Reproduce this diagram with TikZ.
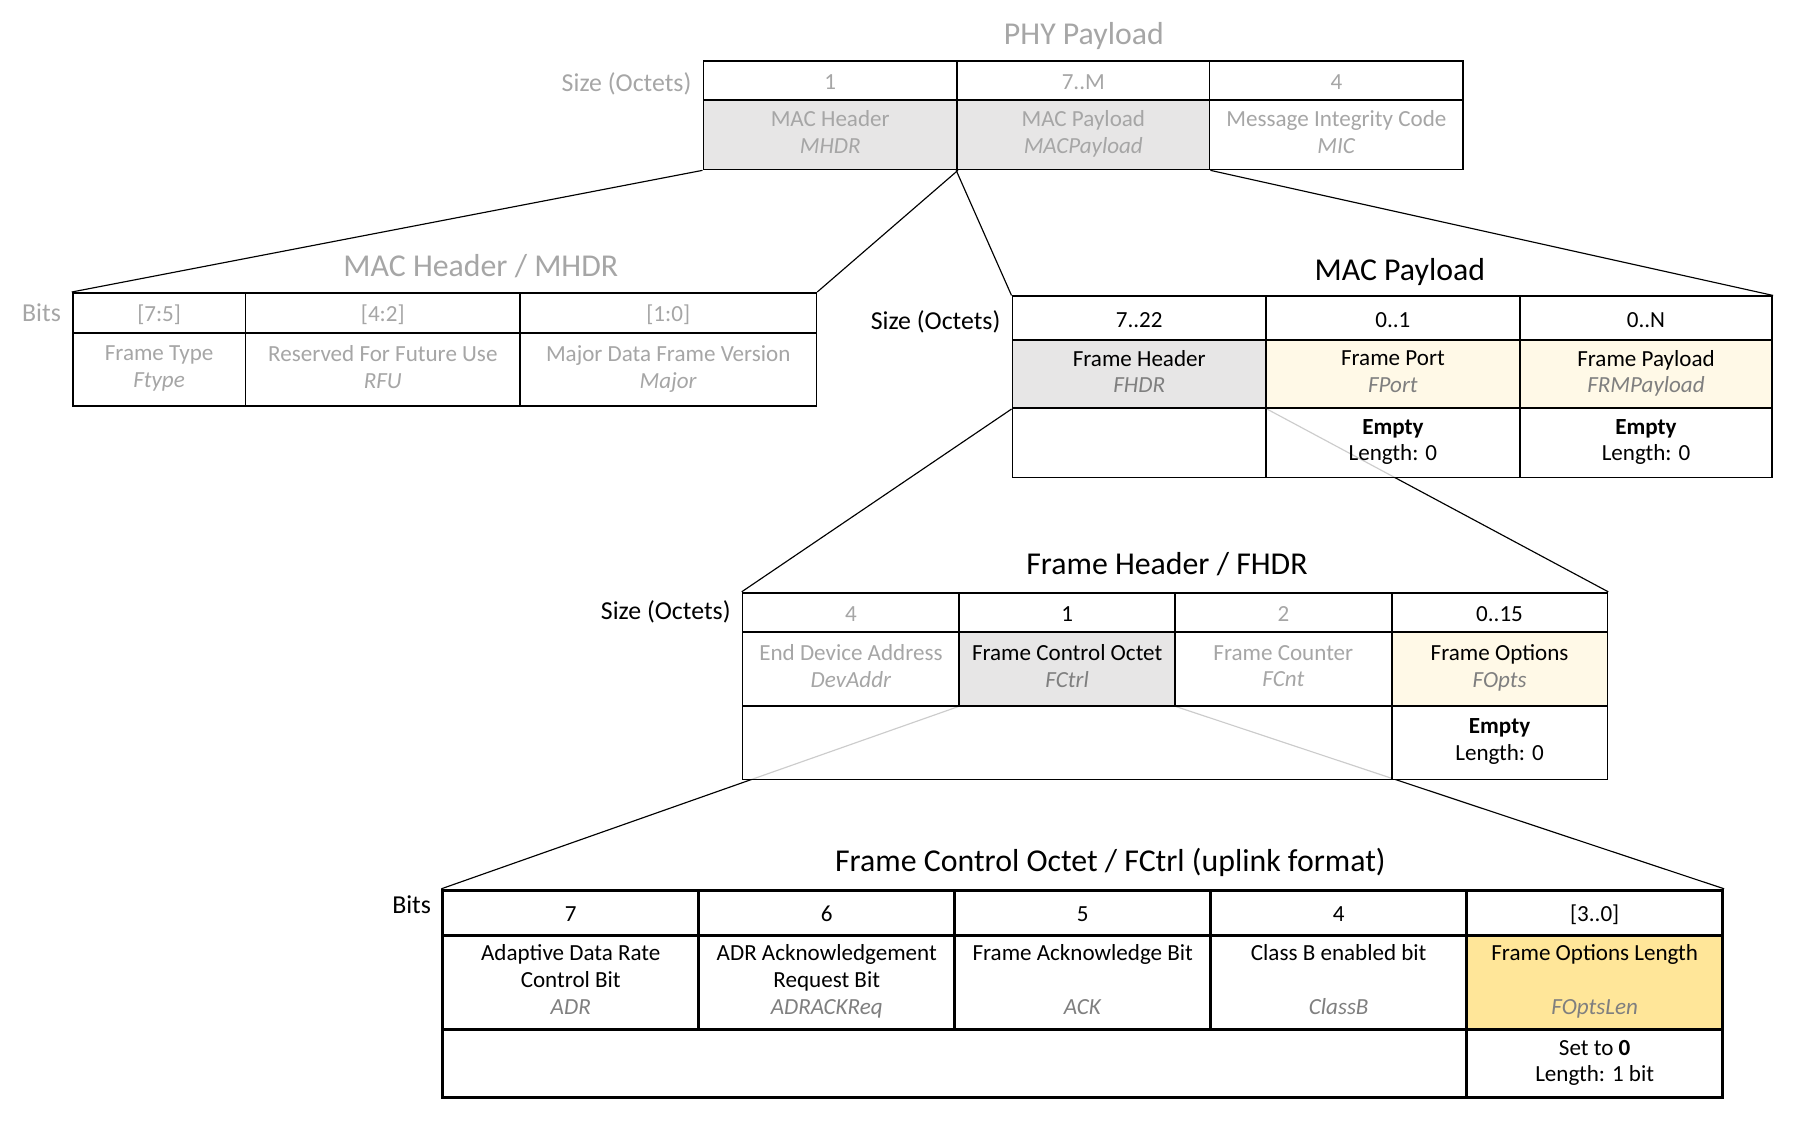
\documentclass[tikz,border=0pt]{standalone}
\usepackage{fontspec}
\setmainfont{Carlito}
\usetikzlibrary{backgrounds}
\definecolor{gtxt}{HTML}{A6A6A6}
\definecolor{itg}{HTML}{7F7F7F}
\definecolor{gfill}{HTML}{E7E6E6}
\definecolor{cream}{HTML}{FFF9E7}
\definecolor{yel}{HTML}{FFE699}
\newcommand{\cellstrut}{\rule[-2.4pt]{0pt}{12.4pt}}
\begin{document}
\begin{tikzpicture}[x=0.5pt,y=-0.5pt,
  cellat/.style n args={4}{at={({(#1+#3)/2},{(#2+#4)/2})}, minimum width={(#3-#1)*0.5pt}, minimum height={(#4-#2)*0.5pt}},
  cell/.style={draw=black, line width=0.75pt, inner sep=0pt, align=center, font=\fontsize{10}{11.6}\selectfont, fill=white, execute at begin node=\cellstrut, execute at end node=\cellstrut},
  fcell/.style={cell, line width=1.2pt},
  see/.style={fill opacity=0.8, text opacity=1},
  ttl/.style={font=\fontsize{13.8}{16}\selectfont},
  lab/.style={font=\fontsize{11.2}{13}\selectfont, inner sep=0pt},
  conn/.style={line width=0.5pt},
]
\useasboundingbox (0,0) rectangle (1568,988);

% PHY Payload
\node[ttl, text=gtxt] (phyT) at (940,31) {PHY Payload};
\node[lab, text=gtxt, anchor=east] (phyS) at (600,73) {Size (Octets)};
\node[cell, text=gtxt, cellat={610}{53}{830}{87}] (p1) {1};
\node[cell, text=gtxt, cellat={830}{53}{1049}{87}] (p2) {7..M};
\node[cell, text=gtxt, cellat={1049}{53}{1269}{87}] (p3) {4};
\node[cell, text=gtxt, fill=gfill, cellat={610}{87}{830}{147}] (p4) {MAC Header\\\textit{MHDR}};
\node[cell, text=gtxt, fill=gfill, cellat={830}{87}{1049}{147}] (p5) {MAC Payload\\\textit{MACPayload}};
\node[cell, text=gtxt, cellat={1049}{87}{1269}{147}] (p6) {Message Integrity Code\\\textit{MIC}};

% MAC Header
\node[ttl, text=gtxt] (mhT) at (417,231) {MAC Header / MHDR};
\node[lab, text=gtxt] (mhS) at (36,271) {Bits};
\node[cell, text=gtxt, cellat={63}{254}{213}{289}] (h1) {[7:5]};
\node[cell, text=gtxt, cellat={213}{254}{451}{289}] (h2) {[4:2]};
\node[cell, text=gtxt, cellat={451}{254}{708}{289}] (h3) {[1:0]};
\node[cell, text=gtxt, cellat={63}{289}{213}{352}] (h4) {Frame Type\\\textit{Ftype}};
\node[cell, text=gtxt, cellat={213}{289}{451}{352}] (h5) {Reserved For Future Use\\\textit{RFU}};
\node[cell, text=gtxt, cellat={451}{289}{708}{352}] (h6) {Major Data Frame Version\\\textit{Major}};

% MAC Payload
\node[ttl] (mpT) at (1214,236) {MAC Payload};
\node[lab, anchor=east] (mpS) at (868,279) {Size (Octets)};
\node[cell, cellat={878}{257}{1098}{295}] (m1) {7..22};
\node[cell, cellat={1098}{257}{1318}{295}] (m2) {0..1};
\node[cell, cellat={1318}{257}{1537}{295}] (m3) {0..N};
\node[cell, fill=gfill, cellat={878}{295}{1098}{354}] (m4) {Frame Header\\\textcolor{itg}{\textit{FHDR}}};
\node[cell, fill=cream, cellat={1098}{295}{1318}{354}] (m5) {Frame Port\\\textcolor{itg}{\textit{FPort}}};
\node[cell, fill=cream, cellat={1318}{295}{1537}{354}] (m6) {Frame Payload\\\textcolor{itg}{\textit{FRMPayload}}};
\node[cell, cellat={878}{354}{1098}{414}] (m7) {};
\node[cell, see, cellat={1098}{354}{1318}{414}] (m8) {\textbf{Empty}\\Length: 0};
\node[cell, cellat={1318}{354}{1537}{414}] (m9) {\textbf{Empty}\\Length: 0};

% Frame Header
\node[ttl] (fhT) at (1012,489) {Frame Header / FHDR};
\node[lab, anchor=east] (fhS) at (634,531) {Size (Octets)};
\node[cell, text=gtxt, cellat={644}{514}{832}{548}] (f1) {4};
\node[cell, cellat={832}{514}{1019}{548}] (f2) {1};
\node[cell, text=gtxt, cellat={1019}{514}{1207}{548}] (f3) {2};
\node[cell, cellat={1207}{514}{1394}{548}] (f4) {0..15};
\node[cell, text=gtxt, cellat={644}{548}{832}{612}] (f5) {End Device Address\\\textit{DevAddr}};
\node[cell, fill=gfill, cellat={832}{548}{1019}{612}] (f6) {Frame Control Octet\\\textcolor{itg}{\textit{FCtrl}}};
\node[cell, text=gtxt, cellat={1019}{548}{1207}{612}] (f7) {Frame Counter\\\textit{FCnt}};
\node[cell, fill=cream, cellat={1207}{548}{1394}{612}] (f8) {Frame Options\\\textcolor{itg}{\textit{FOpts}}};
\node[cell, see, cellat={644}{612}{1207}{676}] (f9) {};
\node[cell, cellat={1207}{612}{1394}{676}] (f10) {\textbf{Empty}\\Length: 0};

% Frame Control Octet
\node[ttl] (fcT) at (963,748) {Frame Control Octet / FCtrl (uplink format)};
\node[lab] (fcS) at (357,785) {Bits};
\node[fcell, cellat={384}{772}{606}{811}] (c1) {7};
\node[fcell, cellat={606}{772}{828}{811}] (c2) {6};
\node[fcell, cellat={828}{772}{1050}{811}] (c3) {5};
\node[fcell, cellat={1050}{772}{1272}{811}] (c4) {4};
\node[fcell, cellat={1272}{772}{1494}{811}] (c5) {[3..0]};
\node[fcell, cellat={384}{811}{606}{893}] (c6) {Adaptive Data Rate\\Control Bit\\\textcolor{itg}{\textit{ADR}}};
\node[fcell, cellat={606}{811}{828}{893}] (c7) {ADR Acknowledgement\\Request Bit\\\textcolor{itg}{\textit{ADRACKReq}}};
\node[fcell, cellat={828}{811}{1050}{893}] (c8) {Frame Acknowledge Bit\\~\\\textcolor{itg}{\textit{ACK}}};
\node[fcell, cellat={1050}{811}{1272}{893}] (c9) {Class B enabled bit\\~\\\textcolor{itg}{\textit{ClassB}}};
\node[fcell, fill=yel, cellat={1272}{811}{1494}{893}] (c10) {Frame Options Length\\~\\\textcolor{itg}{\textit{FOptsLen}}};
\node[fcell, cellat={384}{893}{1272}{952}] (c11) {};
\node[fcell, cellat={1272}{893}{1494}{952}] (c12) {Set to \textbf{0}\\Length: 1 bit};

% connectors
\begin{scope}[on background layer]
\draw[conn] (p4.south west) -- (h1.north west);
\draw[conn] (p4.south east) -- (h3.north east);
\draw[conn] (p5.south west) -- (m1.north west);
\draw[conn] (p5.south east) -- (m3.north east);
\draw[conn] (m4.south west) -- (f1.north west);
\draw[conn] (m4.south east) -- (f4.north east);
\draw[conn] (f6.south west) -- (c1.north west);
\draw[conn] (f6.south east) -- (c5.north east);
\end{scope}
\end{tikzpicture}
\end{document}
